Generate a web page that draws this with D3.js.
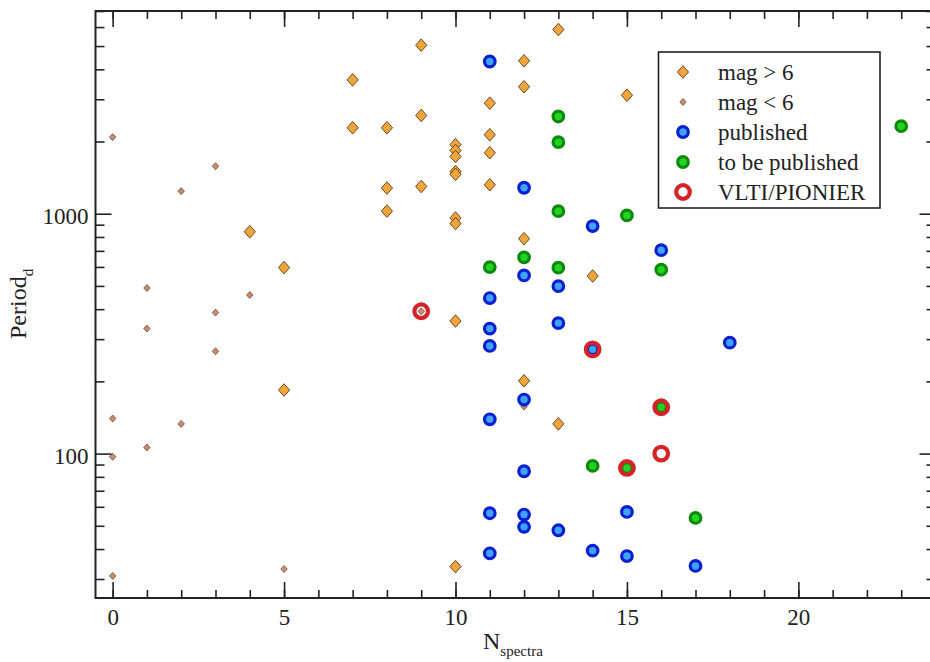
<!DOCTYPE html>
<html>
<head>
<meta charset="utf-8">
<script src="https://cdn.jsdelivr.net/npm/d3@7"></script>
<style>
  html, body { margin: 0; padding: 0; background: #fff; }
  svg { display: block; }
</style>
</head>
<body>
<svg id="chart" width="930" height="662"></svg>
<script>
// ---- data: [N_spectra, Period (d)] ----
const magBright = [ // mag > 6
  [4, 841], [5, 596], [5, 184], [7, 3614], [7, 2282], [8, 2282], [8, 1279], [8, 1025],
  [9, 5040], [9, 2568], [9, 1299], [10, 1940], [10, 1835], [10, 1733], [10, 1500], [10, 1460],
  [10, 960], [10, 910], [10, 357], [10, 33.8], [11, 2890], [11, 2134], [11, 1795], [11, 1320],
  [12, 4340], [12, 3382], [12, 787], [12, 201], [13, 5861], [13, 133], [14, 550], [15, 3120]
];
const magFaint = [ // mag < 6
  [0, 2085], [0, 140], [0, 97], [0, 30.9], [1, 490], [1, 332], [1, 106], [2, 1242], [2, 133],
  [3, 1578], [3, 387], [3, 267], [4, 458], [5, 33], [9, 392], [12, 157]
];
const published = [
  [11, 4311], [12, 1283], [14, 888], [16, 705], [12, 553], [13, 499], [11, 445], [11, 332],
  [13, 350], [11, 281], [14, 272], [18, 290], [12, 168], [11, 139], [12, 84.4], [11, 56.4],
  [12, 55.7], [15, 57.1], [12, 49.5], [13, 47.9], [11, 38.4], [14, 39.4], [15, 37.4], [17, 34.0]
];
const toBePublished = [
  [13, 2543], [13, 1988], [23, 2317], [13, 1025], [15, 984], [12, 658], [11, 599], [13, 596],
  [16, 584], [16, 156], [14, 88.8], [15, 87.1], [17, 53.9]
];
const vltiPionier = [
  [9, 392], [14, 272], [16, 156], [15, 87.1], [16, 100]
];
const xMajorTicks = [0, 5, 10, 15, 20];
const xMinorTicks = d3.range(0, 24);
const yMajorTicks = [100, 1000];
const yMinorTicks = [30, 40, 50, 60, 70, 80, 90, 200, 300, 400, 500, 600, 700, 800, 900,
                     2000, 3000, 4000, 5000, 6000, 7000];
const legendLabels = ["mag > 6", "mag < 6", "published", "to be published", "VLTI/PIONIER"];

// ---- layout ----
const FONT = "'Liberation Serif'";
const L = 95.5, R = 935.5, T = 11, B = 598;
const svg = d3.select("#chart");
const x = d3.scaleLinear().domain([-0.5, 24]).range([L, R]);
const y = d3.scaleLog().domain([25, 7000]).range([B, T]);

const INK = "#222";

// frame
svg.append("rect").attr("x", L).attr("y", T).attr("width", R - L).attr("height", B - T)
  .attr("fill", "none").attr("stroke", INK).attr("stroke-width", 2);

function styleAxis(g) {
  g.attr("font-family", null);
  g.select(".domain").remove();
  g.selectAll(".tick line").attr("stroke", INK).attr("stroke-width", 1.6);
  g.selectAll("text").style("font-family", FONT).attr("font-size", 23).attr("fill", INK);
}
// bottom
svg.append("g").attr("transform", `translate(0,${B})`)
  .call(d3.axisBottom(x).tickValues(xMinorTicks).tickSize(-8).tickFormat(""))
  .call(styleAxis);
svg.append("g").attr("transform", `translate(0,${B})`)
  .call(d3.axisBottom(x).tickValues(xMajorTicks).tickSize(-16).tickPadding(11).tickFormat(d3.format("d")))
  .call(styleAxis);
// top
svg.append("g").attr("transform", `translate(0,${T})`)
  .call(d3.axisTop(x).tickValues(xMinorTicks).tickSize(-8).tickFormat(""))
  .call(styleAxis);
svg.append("g").attr("transform", `translate(0,${T})`)
  .call(d3.axisTop(x).tickValues(xMajorTicks).tickSize(-16).tickFormat(""))
  .call(styleAxis);
// left
svg.append("g").attr("transform", `translate(${L},0)`)
  .call(d3.axisLeft(y).tickValues(yMinorTicks).tickSize(-9).tickFormat(""))
  .call(styleAxis);
const yl = svg.append("g").attr("transform", `translate(${L},0)`)
  .call(d3.axisLeft(y).tickValues(yMajorTicks).tickSize(-16).tickPadding(7).tickFormat(d3.format("d")))
  .call(styleAxis);
yl.selectAll("text").attr("dy", "0.43em");
// right
svg.append("g").attr("transform", `translate(${R},0)`)
  .call(d3.axisRight(y).tickValues(yMinorTicks).tickSize(-9).tickFormat(""))
  .call(styleAxis);
svg.append("g").attr("transform", `translate(${R},0)`)
  .call(d3.axisRight(y).tickValues(yMajorTicks).tickSize(-16).tickFormat(""))
  .call(styleAxis);

// axis titles
const xt = svg.append("text").attr("x", 483).attr("y", 649).attr("font-size", 24)
  .attr("fill", INK).style("font-family", FONT);
xt.append("tspan").text("N");
xt.append("tspan").attr("font-size", 15).attr("dy", 7).text("spectra");

const ytEl = svg.append("text").attr("transform", "translate(26,339) rotate(-90)").attr("font-size", 24)
  .attr("fill", INK).style("font-family", FONT);
ytEl.append("tspan").text("Period");
ytEl.append("tspan").attr("font-size", 15).attr("dy", 7).text("d");

// marker helpers
function diamondPath(hw, hh) {
  const p = d3.path();
  p.moveTo(0, -hh); p.lineTo(hw, 0); p.lineTo(0, hh); p.lineTo(-hw, 0); p.closePath();
  return p.toString();
}
const styles = {
  bright: g => g.append("path").attr("d", diamondPath(5.6, 6.3)).attr("fill", "#EFA43C").attr("stroke", "#5a3a1a").attr("stroke-width", 0.9),
  faint: g => g.append("path").attr("d", diamondPath(3.2, 3.5)).attr("fill", "#C98D6E").attr("stroke", "#6a4a3a").attr("stroke-width", 0.8),
  pub: g => g.append("circle").attr("r", 5.3).attr("fill", "#3FA2FF").attr("stroke", "#0A20D0").attr("stroke-width", 3.2),
  tbp: g => g.append("circle").attr("r", 5.3).attr("fill", "#22D322").attr("stroke", "#0B8A0B").attr("stroke-width", 3.2),
  vlti: g => g.append("circle").attr("r", 6.8).attr("fill", "none").attr("stroke", "#D42428").attr("stroke-width", 4.2)
};

function drawSeries(data, key) {
  svg.append("g").selectAll("g").data(data).join("g")
    .attr("transform", d => `translate(${x(d[0])},${y(d[1])})`)
    .each(function () { styles[key](d3.select(this)); });
}
drawSeries(magBright, "bright");
drawSeries(magFaint, "faint");
drawSeries(published, "pub");
drawSeries(toBePublished, "tbp");
drawSeries(vltiPionier, "vlti");

// legend
const lg = svg.append("g");
lg.append("rect").attr("x", 658.5).attr("y", 52).attr("width", 221.5).attr("height", 156)
  .attr("fill", "#fff").attr("stroke", INK).attr("stroke-width", 1.6);
const legendKeys = ["bright", "faint", "pub", "tbp", "vlti"];
legendLabels.forEach((lab, i) => {
  const cy = 72 + i * 30;
  const g = lg.append("g").attr("transform", `translate(683,${cy})`);
  styles[legendKeys[i]](g);
  lg.append("text").attr("x", 718).attr("y", cy + 7.5).attr("font-size", 23)
    .attr("fill", INK).style("font-family", FONT).text(lab);
});
</script>
</body>
</html>
